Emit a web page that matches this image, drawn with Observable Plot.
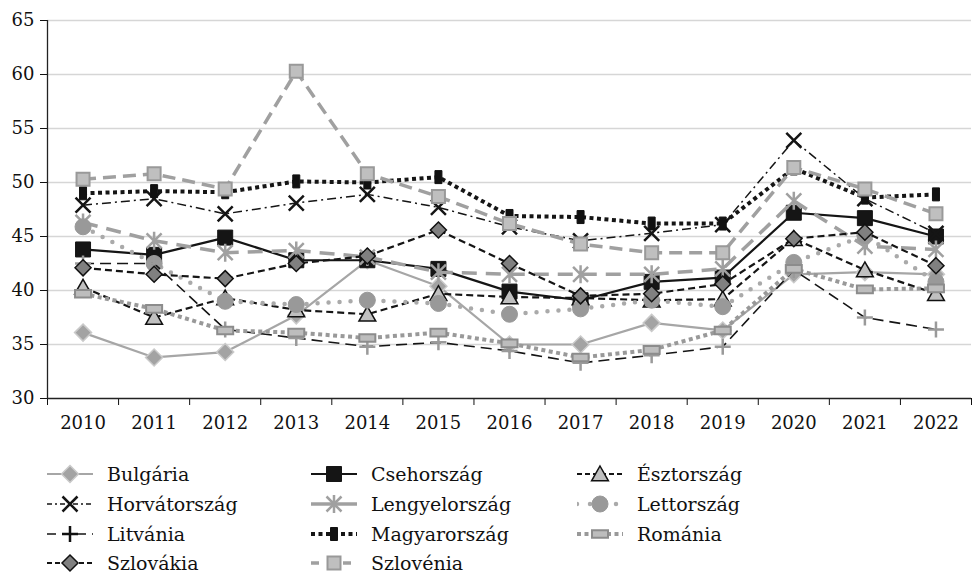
<!DOCTYPE html>
<html><head><meta charset="utf-8">
<script src="https://cdn.jsdelivr.net/npm/d3@7"></script>
<script src="https://cdn.jsdelivr.net/npm/@observablehq/plot@0.6"></script>
<style>
html,body{margin:0;padding:0;background:#fff;}
#wrap{position:relative;width:972px;height:575px;overflow:hidden;font-family:"DejaVu Serif","Liberation Serif",serif;}
#chart svg{display:block;}
#chart svg text{font-family:"DejaVu Serif","Liberation Serif",serif !important;}
#legend{position:absolute;left:0;top:445px;width:972px;height:130px;}
.item{position:absolute;height:26px;}
.item svg{position:absolute;left:0;top:0;}
.item span{position:absolute;left:60px;top:0;font-size:19px;line-height:26px;color:#111;white-space:nowrap;}
</style></head>
<body><div id="wrap"><div id="chart"></div><div id="legend"></div></div>
<script>
// ---- data ----
const years = [2010,2011,2012,2013,2014,2015,2016,2017,2018,2019,2020,2021,2022];
const yTicks = [30,35,40,45,50,55,60,65];
const seriesNames = ["Bulgária","Csehország","Észtország","Horvátország","Lengyelország","Lettország","Litvánia","Magyarország","Románia","Szlovákia","Szlovénia"];
const bulgaria     = [36.1,33.8,34.3,37.7,42.8,40.4,35.0,35.0,37.0,36.3,41.5,41.7,41.5];
const csehorszag   = [43.8,43.3,44.9,42.8,42.8,42.0,39.9,39.1,40.8,41.2,47.2,46.7,45.0];
const esztorszag   = [40.3,37.5,39.3,38.2,37.8,39.7,39.4,39.3,39.1,39.2,44.8,41.9,39.7];
const horvatorszag = [47.9,48.5,47.1,48.1,48.9,47.7,45.9,44.6,45.3,46.1,53.9,48.5,45.3];
const lengyelorszag= [46.3,44.6,43.5,43.7,43.1,41.7,41.5,41.5,41.5,42.0,48.3,44.1,43.8];
const lettorszag   = [45.9,42.5,39.0,38.7,39.1,38.8,37.8,38.3,39.1,38.5,42.6,45.1,40.8];
const litvania     = [42.5,42.5,36.4,35.6,34.8,35.2,34.4,33.3,34.0,34.8,41.9,37.5,36.4];
const magyarorszag = [49.0,49.2,49.1,50.1,50.0,50.5,46.9,46.8,46.2,46.2,51.3,48.6,48.9];
const romania      = [39.7,38.3,36.3,36.1,35.6,36.1,35.1,33.8,34.5,36.3,42.0,40.1,40.2];
const szlovakia    = [42.1,41.5,41.1,42.5,43.2,45.6,42.5,39.5,39.7,40.6,44.8,45.4,42.3];
const szlovenia    = [50.3,50.8,49.4,60.3,50.8,48.7,46.2,44.3,43.5,43.5,51.4,49.4,47.1];
const seriesValues = [bulgaria,csehorszag,esztorszag,horvatorszag,lengyelorszag,lettorszag,litvania,magyarorszag,romania,szlovakia,szlovenia];

// ---- marker shapes ----
const shp = {
  square: h => ({draw(c){c.rect(-h,-h,2*h,2*h);}}),
  rect: (w,h) => ({draw(c){c.rect(-w,-h,2*w,2*h);}}),
  diamond: h => ({draw(c){c.moveTo(0,-h);c.lineTo(h,0);c.lineTo(0,h);c.lineTo(-h,0);c.closePath();}}),
  triangle: h => ({draw(c){c.moveTo(0,-h);c.lineTo(h*1.05,h*0.85);c.lineTo(-h*1.05,h*0.85);c.closePath();}}),
  times: h => ({draw(c){c.moveTo(-h,-h);c.lineTo(h,h);c.moveTo(h,-h);c.lineTo(-h,h);}}),
  star: h => ({draw(c){c.moveTo(-h,-h);c.lineTo(h,h);c.moveTo(h,-h);c.lineTo(-h,h);c.moveTo(0,-h*1.2);c.lineTo(0,h*1.2);}}),
  plus: h => ({draw(c){c.moveTo(-h,0);c.lineTo(h,0);c.moveTo(0,-h);c.lineTo(0,h);}}),
  circle: r => ({draw(c){c.moveTo(r,0);c.arc(0,0,r,0,2*Math.PI);}})
};

const styles = [
  {stroke:"#a6a6a6", sw:2.2, dash:null, sym:shp.diamond(8.5), fill:"#a3a3a3", ms:"#cacaca", msw:1.5},
  {stroke:"#151515", sw:2.2, dash:null, sym:shp.square(7.5), fill:"#151515", ms:"#151515", msw:1},
  {stroke:"#151515", sw:2.2, dash:"7,4", sym:shp.triangle(8), fill:"#c0c0c0", ms:"#111", msw:1.5, legDash:"5,3"},
  {stroke:"#151515", sw:1.5, dash:"9,4,2,4", sym:shp.times(7.5), fill:"none", ms:"#151515", msw:2.5, legDash:"5,3,2,3"},
  {stroke:"#a0a0a0", sw:3.5, dash:"15,9", sym:shp.star(7.5), fill:"none", ms:"#a0a0a0", msw:2.5, legDash:null},
  {stroke:"#aaaaaa", sw:4.5, dash:"0,11", cap:"round", sym:shp.circle(8), fill:"#999999", ms:"#999999", msw:1, legDash:"0,13"},
  {stroke:"#151515", sw:1.6, dash:"11,6", sym:shp.plus(8), fill:"none", ms:"#9a9a9a", msw:2.5, legMs:"#111", legDash:"9,6"},
  {stroke:"#151515", sw:4, dash:"4,3.5", sym:shp.rect(3.5,6.5), fill:"#111", ms:"#111", msw:1},
  {stroke:"#999999", sw:4, dash:"4,3.5", sym:shp.rect(8,3.8), fill:"#bdbdbd", ms:"#8c8c8c", msw:2},
  {stroke:"#151515", sw:2.2, dash:"7,4", sym:shp.diamond(8), fill:"#808080", ms:"#111", msw:1.5, legDash:"5,3"},
  {stroke:"#a0a0a0", sw:3.5, dash:"13,7", sym:shp.square(6.5), fill:"#bfbfbf", ms:"#999999", msw:2, legDash:"8,8"}
];

const table = seriesNames.flatMap((n,k) => years.map((y,i) => ({name:n, year:y, value:seriesValues[k][i]})));
const xDomain = [years[0]-0.5, years[years.length-1]+0.5];
const yDomain = [yTicks[0], yTicks[yTicks.length-1]];
const boundaries = years.map(y => y-0.5).concat([years[years.length-1]+0.5]);
const FONT = "'DejaVu Serif','Liberation Serif',serif";

const seriesMarks = seriesNames.flatMap((n,k) => {
  const s = styles[k];
  const d = table.filter(r => r.name === n);
  return [
    Plot.line(d, {x:"year", y:"value", stroke:s.stroke, strokeWidth:s.sw, strokeDasharray:s.dash, strokeLinecap:s.cap||"butt", strokeLinejoin:"round"}),
    Plot.dot(d, {x:"year", y:"value", symbol:s.sym, r:5, fill:s.fill, stroke:s.ms, strokeWidth:s.msw})
  ];
});

const chart = Plot.plot({
  width:972, height:445,
  marginLeft:47, marginRight:1, marginTop:20, marginBottom:47,
  style:{fontFamily:FONT, fontSize:"18px", color:"#111", background:"#fff"},
  x:{domain:xDomain},
  y:{domain:yDomain},
  marks:[
    Plot.ruleY(yTicks.slice(1), {stroke:"#d6d6d6", strokeWidth:1.6}),
    Plot.axisY({ticks:yTicks, tickSize:7, tickPadding:6, label:null, fontSize:18}),
    Plot.axisX({ticks:boundaries, tickSize:7, tickFormat:() => "", label:null}),
    Plot.axisX({ticks:years, tickSize:0, tickPadding:18, tickFormat:d => String(d), label:null, fontSize:18}),
    Plot.ruleY([yDomain[0]], {stroke:"#222", strokeWidth:1.3}),
    Plot.ruleX([xDomain[0]], {y1:yDomain[0], y2:yDomain[1], stroke:"#222", strokeWidth:1.3}),
    ...seriesMarks
  ]
});
document.getElementById("chart").appendChild(chart);

// ---- legend ----
const colX = [47, 311, 577];
const rowY = [29, 59, 89, 118];
const leg = d3.select("#legend");
seriesNames.forEach((n,k) => {
  const s = styles[k];
  const item = leg.append("div").attr("class","item")
    .style("left", colX[k%3]+"px").style("top", (rowY[Math.floor(k/3)]-13)+"px");
  const svg = item.append("svg").attr("width",50).attr("height",26);
  const ld = s.legDash !== undefined ? s.legDash : s.dash;
  svg.append("line").attr("x1",0).attr("x2",46).attr("y1",13).attr("y2",13)
    .attr("stroke",s.stroke).attr("stroke-width",s.sw)
    .attr("stroke-dasharray",ld).attr("stroke-linecap",s.cap||"butt");
  svg.append("path").attr("transform","translate(23,13)")
    .attr("d", d3.symbol(s.sym)())
    .attr("fill",s.fill).attr("stroke",s.legMs||s.ms).attr("stroke-width",s.msw);
  item.append("span").text(n);
});
</script></body></html>
